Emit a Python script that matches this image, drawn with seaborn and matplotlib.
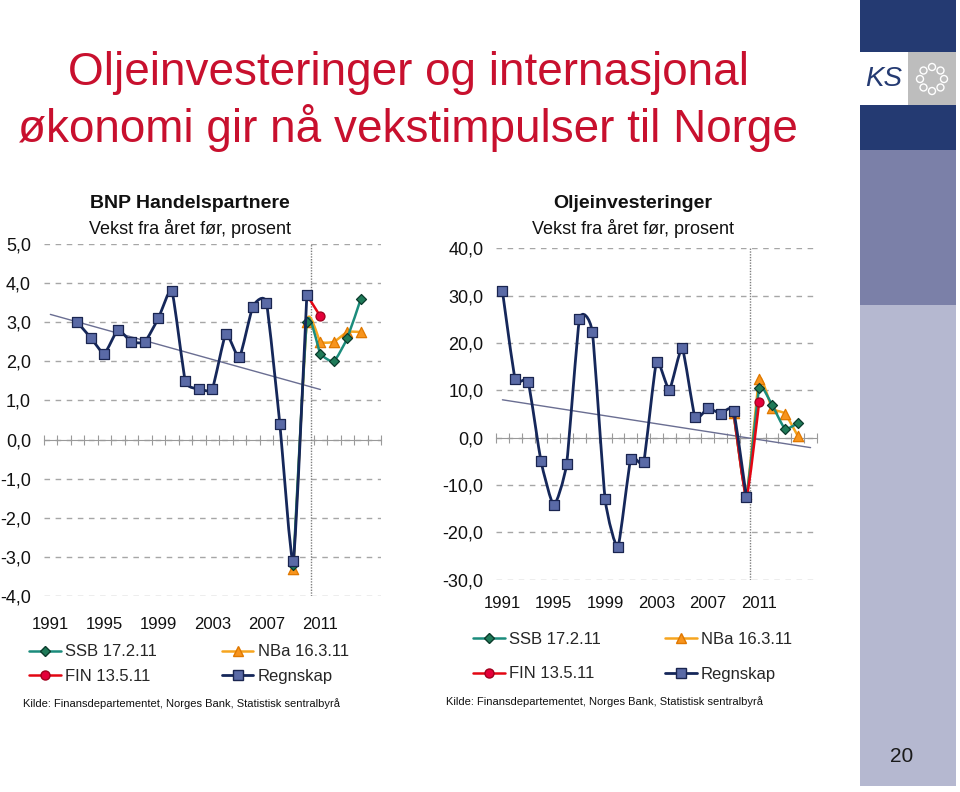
import numpy as np
import pandas as pd
import matplotlib
matplotlib.use("Agg")
import matplotlib.pyplot as plt
import seaborn as sns
from matplotlib.path import Path
from matplotlib.patches import PathPatch, Rectangle, Ellipse
from matplotlib.lines import Line2D
from matplotlib.ticker import FuncFormatter

# ---- data: BNP Handelspartnere (vekst fra året før, prosent)
bnp_years = list(range(1993, 2011))
bnp_regnskap = [3.0, 2.6, 2.2, 2.8, 2.5, 2.5, 3.1, 3.8, 1.5, 1.3, 1.3, 2.7, 2.1, 3.4, 3.5, 0.4, -3.1, 3.7]
bnp_fc_years = [2009, 2010, 2011, 2012, 2013, 2014]
bnp_ssb = [-3.2, 3.0, 2.2, 2.0, 2.6, 3.6]
bnp_nba = [-3.3, 3.0, 2.5, 2.5, 2.75, 2.75]
bnp_fin_years = [2010, 2011]
bnp_fin = [3.7, 3.15]
bnp_trend_years = [1991, 2011]
bnp_trend = [3.2, 1.28]

# ---- data: Oljeinvesteringer (vekst fra året før, prosent)
olje_years = list(range(1991, 2011))
olje_regnskap = [31.0, 12.3, 11.8, -4.9, -14.3, -5.5, 25.0, 22.3, -13.0, -23.0,
                 -4.4, -5.1, 16.0, 10.1, 18.9, 4.3, 6.2, 5.1, 5.7, -12.6]
olje_fc_years = [2009, 2010, 2011, 2012, 2013, 2014]
olje_ssb = [5.3, -12.0, 10.4, 6.9, 1.9, 3.05]
olje_nba = [5.2, -12.0, 12.4, 6.2, 5.1, 0.4]
olje_fin_years = [2009, 2010, 2011]
olje_fin = [5.5, -12.5, 7.6]
olje_trend_years = [1991, 2015]
olje_trend = [8.0, -2.1]

label_years = [1991, 1995, 1999, 2003, 2007, 2011]
forecast_split = 2010.3

# styles
C_REG, C_REG_FILL = "#15275a", "#5a6aa6"
C_SSB, C_SSB_FILL = "#1b8c7c", "#1f7a58"
C_NBA, C_NBA_FILL = "#f6a51f", "#f7941d"
C_FIN, C_FIN_FILL = "#e30613", "#e4003a"
C_TREND = "#6a6e92"
C_GRID = "#a6a6a6"
C_TITLE = "#c8102e"
SMOOTH = 0.085  # how far the bezier handles reach (excel-like soft corners)

sns.set_style("white")
plt.rcParams["font.family"] = ["Liberation Sans", "DejaVu Sans"]

W, H = 960, 792


def fx(x):
    return x / W


def fy(y):
    return 1 - y / H


def smooth_path(x, y):
    # smoothed line as bezier curves through the points
    pts = np.column_stack([x, y]).astype(float)
    n = len(pts)
    verts = [pts[0]]
    codes = [Path.MOVETO]
    for i in range(n - 1):
        p0 = pts[max(i - 1, 0)]
        p1 = pts[i]
        p2 = pts[i + 1]
        p3 = pts[min(i + 2, n - 1)]
        verts += [p1 + (p2 - p0) * SMOOTH, p2 - (p3 - p1) * SMOOTH, p2]
        codes += [Path.CURVE4] * 3
    return Path(verts, codes)


def draw_series(ax, x, y, color, fill, edge, marker, size, lw, z):
    ax.add_patch(PathPatch(smooth_path(x, y), fill=False, edgecolor=color, lw=lw,
                           zorder=z, capstyle="round", joinstyle="round"))
    df = pd.DataFrame({"year": x, "value": y})
    sns.scatterplot(data=df, x="year", y="value", ax=ax, marker=marker, s=size,
                    color=fill, edgecolor=edge, linewidth=0.9, zorder=z + 0.5, legend=False)


def style_axes(ax, yticks, lab_pad):
    ax.set_xlim(1990.5, 2015.5)
    ax.set_ylim(yticks[0], yticks[-1])
    ax.set_yticks(yticks)
    ax.yaxis.set_major_formatter(FuncFormatter(lambda v, p: f"{v:.1f}".replace(".", ",")))
    ax.yaxis.grid(True, color=C_GRID, linestyle=(0, (4, 4)), lw=1)
    ax.xaxis.grid(False)
    ax.set_axisbelow(True)
    for s in ["left", "right", "top"]:
        ax.spines[s].set_visible(False)
    ax.spines["bottom"].set_position(("data", 0))
    ax.spines["bottom"].set_color("#9a9a9a")
    ax.spines["bottom"].set_zorder(1.5)
    ax.set_xticks(np.arange(1990.5, 2016, 1))
    ax.tick_params(axis="x", direction="inout", length=7, width=0.8, color="#9a9a9a",
                   labelbottom=False, bottom=True)
    ax.tick_params(axis="y", length=0, pad=9, labelsize=13, colors="#111111")
    ax.set_xlabel("")
    ax.set_ylabel("")
    sec = ax.secondary_xaxis(0)
    sec.set_xticks(label_years)
    sec.tick_params(length=0, pad=lab_pad, labelsize=12, colors="#111111")
    sec.spines["bottom"].set_visible(False)
    ax.axvline(forecast_split, color="#7f7f7f", lw=1, linestyle=(0, (1, 1)), zorder=2)


def draw_chart(ax, years, regnskap, fc_years, ssb, nba, fin_years, fin, trend_x, trend_y):
    ax.plot(trend_x, trend_y, color=C_TREND, lw=1, zorder=2.2)
    draw_series(ax, fc_years, nba, C_NBA, C_NBA_FILL, "#e07800", "^", 55, 1.8, 3)
    draw_series(ax, fc_years, ssb, C_SSB, C_SSB_FILL, "#0b3b2c", "D", 26, 1.8, 4)
    draw_series(ax, fin_years, fin, C_FIN, C_FIN_FILL, "#a0001c", "o", 42, 1.8, 5)
    draw_series(ax, years, regnskap, C_REG, C_REG_FILL, "#1a2550", "s", 44, 2.0, 6)


fig = plt.figure(figsize=(W / 100, H / 100), dpi=100)

ax1 = fig.add_axes([fx(43.6), fy(596), 337.5 / W, 352 / H])
draw_chart(ax1, bnp_years, bnp_regnskap, bnp_fc_years, bnp_ssb, bnp_nba,
           bnp_fin_years, bnp_fin, bnp_trend_years, bnp_trend)
style_axes(ax1, list(range(-4, 6)), 15)

ax2 = fig.add_axes([fx(496), fy(579.7), 321 / W, 331.4 / H])
draw_chart(ax2, olje_years, olje_regnskap, olje_fc_years, olje_ssb, olje_nba,
           olje_fin_years, olje_fin, olje_trend_years, olje_trend)
style_axes(ax2, list(range(-30, 50, 10)), 12)

# titles
fig.text(fx(408), fy(73), "Oljeinvesteringer og internasjonal", color=C_TITLE,
         fontsize=33, ha="center", va="center")
fig.text(fx(408), fy(128), "økonomi gir nå vekstimpulser til Norge", color=C_TITLE,
         fontsize=33, ha="center", va="center")

fig.text(fx(190), fy(203), "BNP Handelspartnere", fontsize=14, fontweight="bold",
         ha="center", va="center", color="#111111")
fig.text(fx(190), fy(229), "Vekst fra året før, prosent", fontsize=13,
         ha="center", va="center", color="#111111")
fig.text(fx(633), fy(203), "Oljeinvesteringer", fontsize=14, fontweight="bold",
         ha="center", va="center", color="#111111")
fig.text(fx(633), fy(229), "Vekst fra året før, prosent", fontsize=13,
         ha="center", va="center", color="#111111")


# legends
def handles():
    h_ssb = Line2D([], [], color=C_SSB, lw=1.8, marker="D", markersize=5,
                   markerfacecolor=C_SSB_FILL, markeredgecolor="#0b3b2c")
    h_fin = Line2D([], [], color=C_FIN, lw=1.8, marker="o", markersize=6.5,
                   markerfacecolor=C_FIN_FILL, markeredgecolor="#a0001c")
    h_nba = Line2D([], [], color=C_NBA, lw=1.8, marker="^", markersize=7.5,
                   markerfacecolor=C_NBA_FILL, markeredgecolor="#e07800")
    h_reg = Line2D([], [], color=C_REG, lw=2, marker="s", markersize=6.5,
                   markerfacecolor=C_REG_FILL, markeredgecolor="#1a2550")
    return [h_ssb, h_fin, h_nba, h_reg], ["SSB 17.2.11", "FIN 13.5.11", "NBa 16.3.11", "Regnskap"]


hs, ls = handles()
fig.legend(hs, ls, loc="center left", bbox_to_anchor=(fx(29), fy(664)), ncol=2,
           frameon=False, fontsize=12, handlelength=1.9, handletextpad=0.25,
           columnspacing=3.9, labelspacing=0.55, borderpad=0, borderaxespad=0)
fig.legend(hs, ls, loc="center left", bbox_to_anchor=(fx(473), fy(656.5)), ncol=2,
           frameon=False, fontsize=12, handlelength=1.9, handletextpad=0.25,
           columnspacing=3.85, labelspacing=1.2, borderpad=0, borderaxespad=0)

src = "Kilde: Finansdepartementet, Norges Bank, Statistisk sentralbyrå"
fig.text(fx(23), fy(704), src, fontsize=8, va="center", color="#111111")
fig.text(fx(446), fy(702), src, fontsize=8, va="center", color="#111111")

# side bar
NAVY = "#243a72"
bars = [(0, 52, NAVY), (105, 150, NAVY), (150, 305, "#7b80a8"), (305, 786, "#b5b8d0")]
for top, bot, col in bars:
    fig.add_artist(Rectangle((fx(860), fy(bot)), 96 / W, (bot - top) / H,
                             transform=fig.transFigure, color=col, lw=0))
fig.add_artist(Rectangle((fx(908), fy(105)), 48 / W, 53 / H,
                         transform=fig.transFigure, color="#bdbdbd", lw=0))
fig.text(fx(884), fy(79), "KS", fontsize=20, style="italic", color=NAVY,
         ha="center", va="center")
for a in np.linspace(0, 2 * np.pi, 9)[:-1]:
    fig.add_artist(Ellipse((fx(932 + 12 * np.cos(a)), fy(79 + 12 * np.sin(a))),
                           7 / W, 7 / H, transform=fig.transFigure,
                           fill=False, edgecolor="white", lw=1))
fig.text(fx(902), fy(757), "20", fontsize=15, ha="center", va="center", color="#1a1a1a")

fig.savefig("out.png", dpi=100)
